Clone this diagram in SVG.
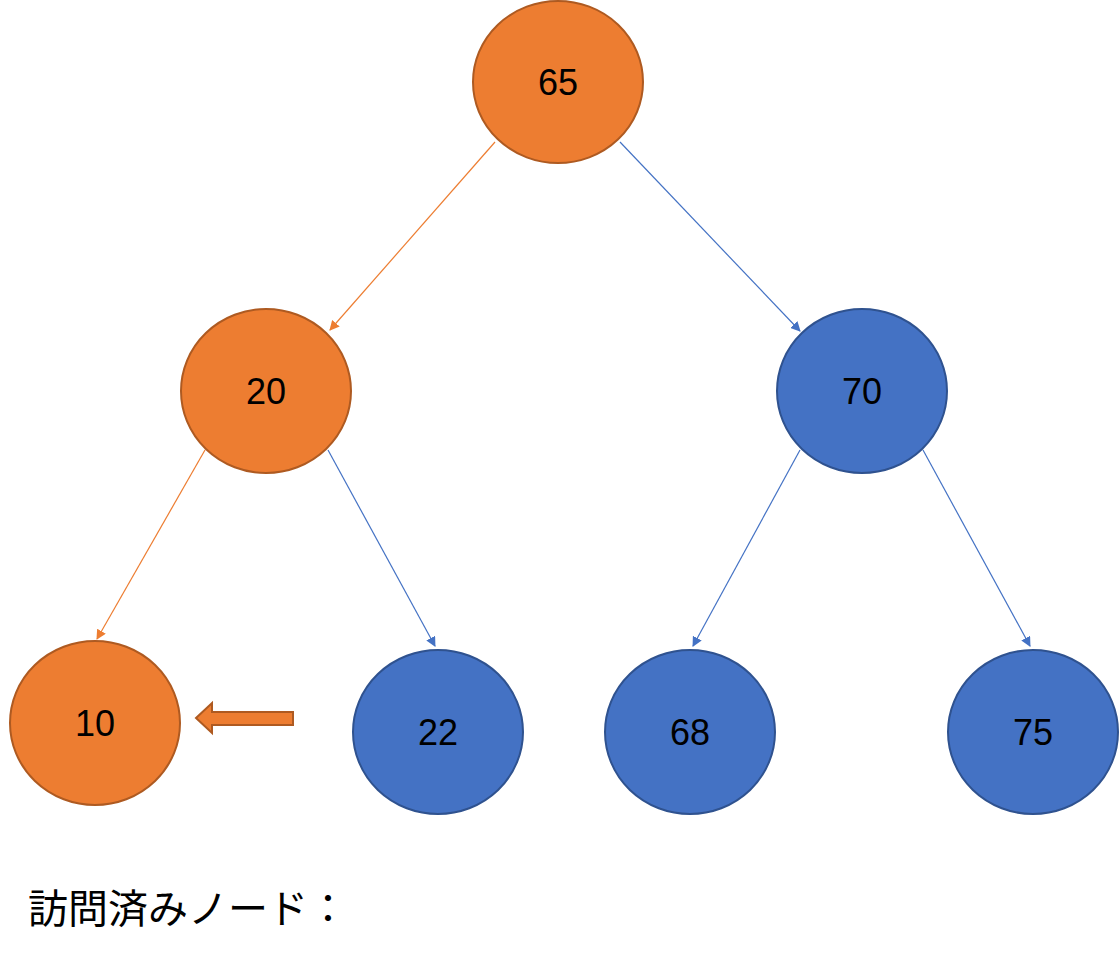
<svg xmlns="http://www.w3.org/2000/svg" width="1120" height="960" viewBox="0 0 1120 960">
<defs>
<style>
.o{fill:#ED7D31;stroke:#AE5A21;stroke-width:2}
.b{fill:#4472C4;stroke:#2F528F;stroke-width:2}
.t{font-family:"Liberation Sans","Noto Sans",sans-serif;font-size:36px;text-anchor:middle;dominant-baseline:central;fill:#000}
.lo{stroke:#ED7D31;stroke-width:1.2;fill:none;marker-end:url(#mo)}
.lb{stroke:#4472C4;stroke-width:1.2;fill:none;marker-end:url(#mb)}
</style>
<marker id="mo" viewBox="0 0 10 10" refX="9" refY="5" markerWidth="10" markerHeight="10" markerUnits="userSpaceOnUse" orient="auto"><path d="M0,0 L10,5 L0,10 z" fill="#ED7D31"/></marker>
<marker id="mb" viewBox="0 0 10 10" refX="9" refY="5" markerWidth="10" markerHeight="10" markerUnits="userSpaceOnUse" orient="auto"><path d="M0,0 L10,5 L0,10 z" fill="#4472C4"/></marker>
</defs>
<rect width="1120" height="960" fill="#fff"/>
<g id="connectors">
<line class="lo" x1="495" y1="142" x2="330" y2="330"/>
<line class="lb" x1="620" y1="142" x2="800" y2="331"/>
<line class="lo" x1="205" y1="450" x2="97" y2="639"/>
<line class="lb" x1="328" y1="450" x2="435" y2="646"/>
<line class="lb" x1="800" y1="450" x2="693" y2="646"/>
<line class="lb" x1="923" y1="450" x2="1030" y2="646"/>
</g>
<g id="n65"><ellipse class="o" cx="558" cy="82" rx="85" ry="81"/><text class="t" x="558" y="82">65</text></g>
<g id="n20"><ellipse class="o" cx="266" cy="391" rx="85" ry="82"/><text class="t" x="266" y="391">20</text></g>
<g id="n70"><ellipse class="b" cx="862" cy="391" rx="85" ry="82"/><text class="t" x="862" y="391">70</text></g>
<g id="n10"><ellipse class="o" cx="95" cy="723" rx="85" ry="82"/><text class="t" x="95" y="723">10</text></g>
<g id="n22"><ellipse class="b" cx="438" cy="732" rx="85" ry="82"/><text class="t" x="438" y="732">22</text></g>
<g id="n68"><ellipse class="b" cx="690" cy="732" rx="85" ry="82"/><text class="t" x="690" y="732">68</text></g>
<g id="n75"><ellipse class="b" cx="1033" cy="732" rx="85" ry="82"/><text class="t" x="1033" y="732">75</text></g>
<g id="pointer"><path class="o" d="M196,718 L212,703 L212,712 L293,712 L293,725 L212,725 L212,733 z"/></g>
<text x="28" y="923" font-family="'Noto Sans CJK JP','Noto Sans CJK SC',sans-serif" font-size="40" fill="#000">訪問済みノード：</text>
</svg>
